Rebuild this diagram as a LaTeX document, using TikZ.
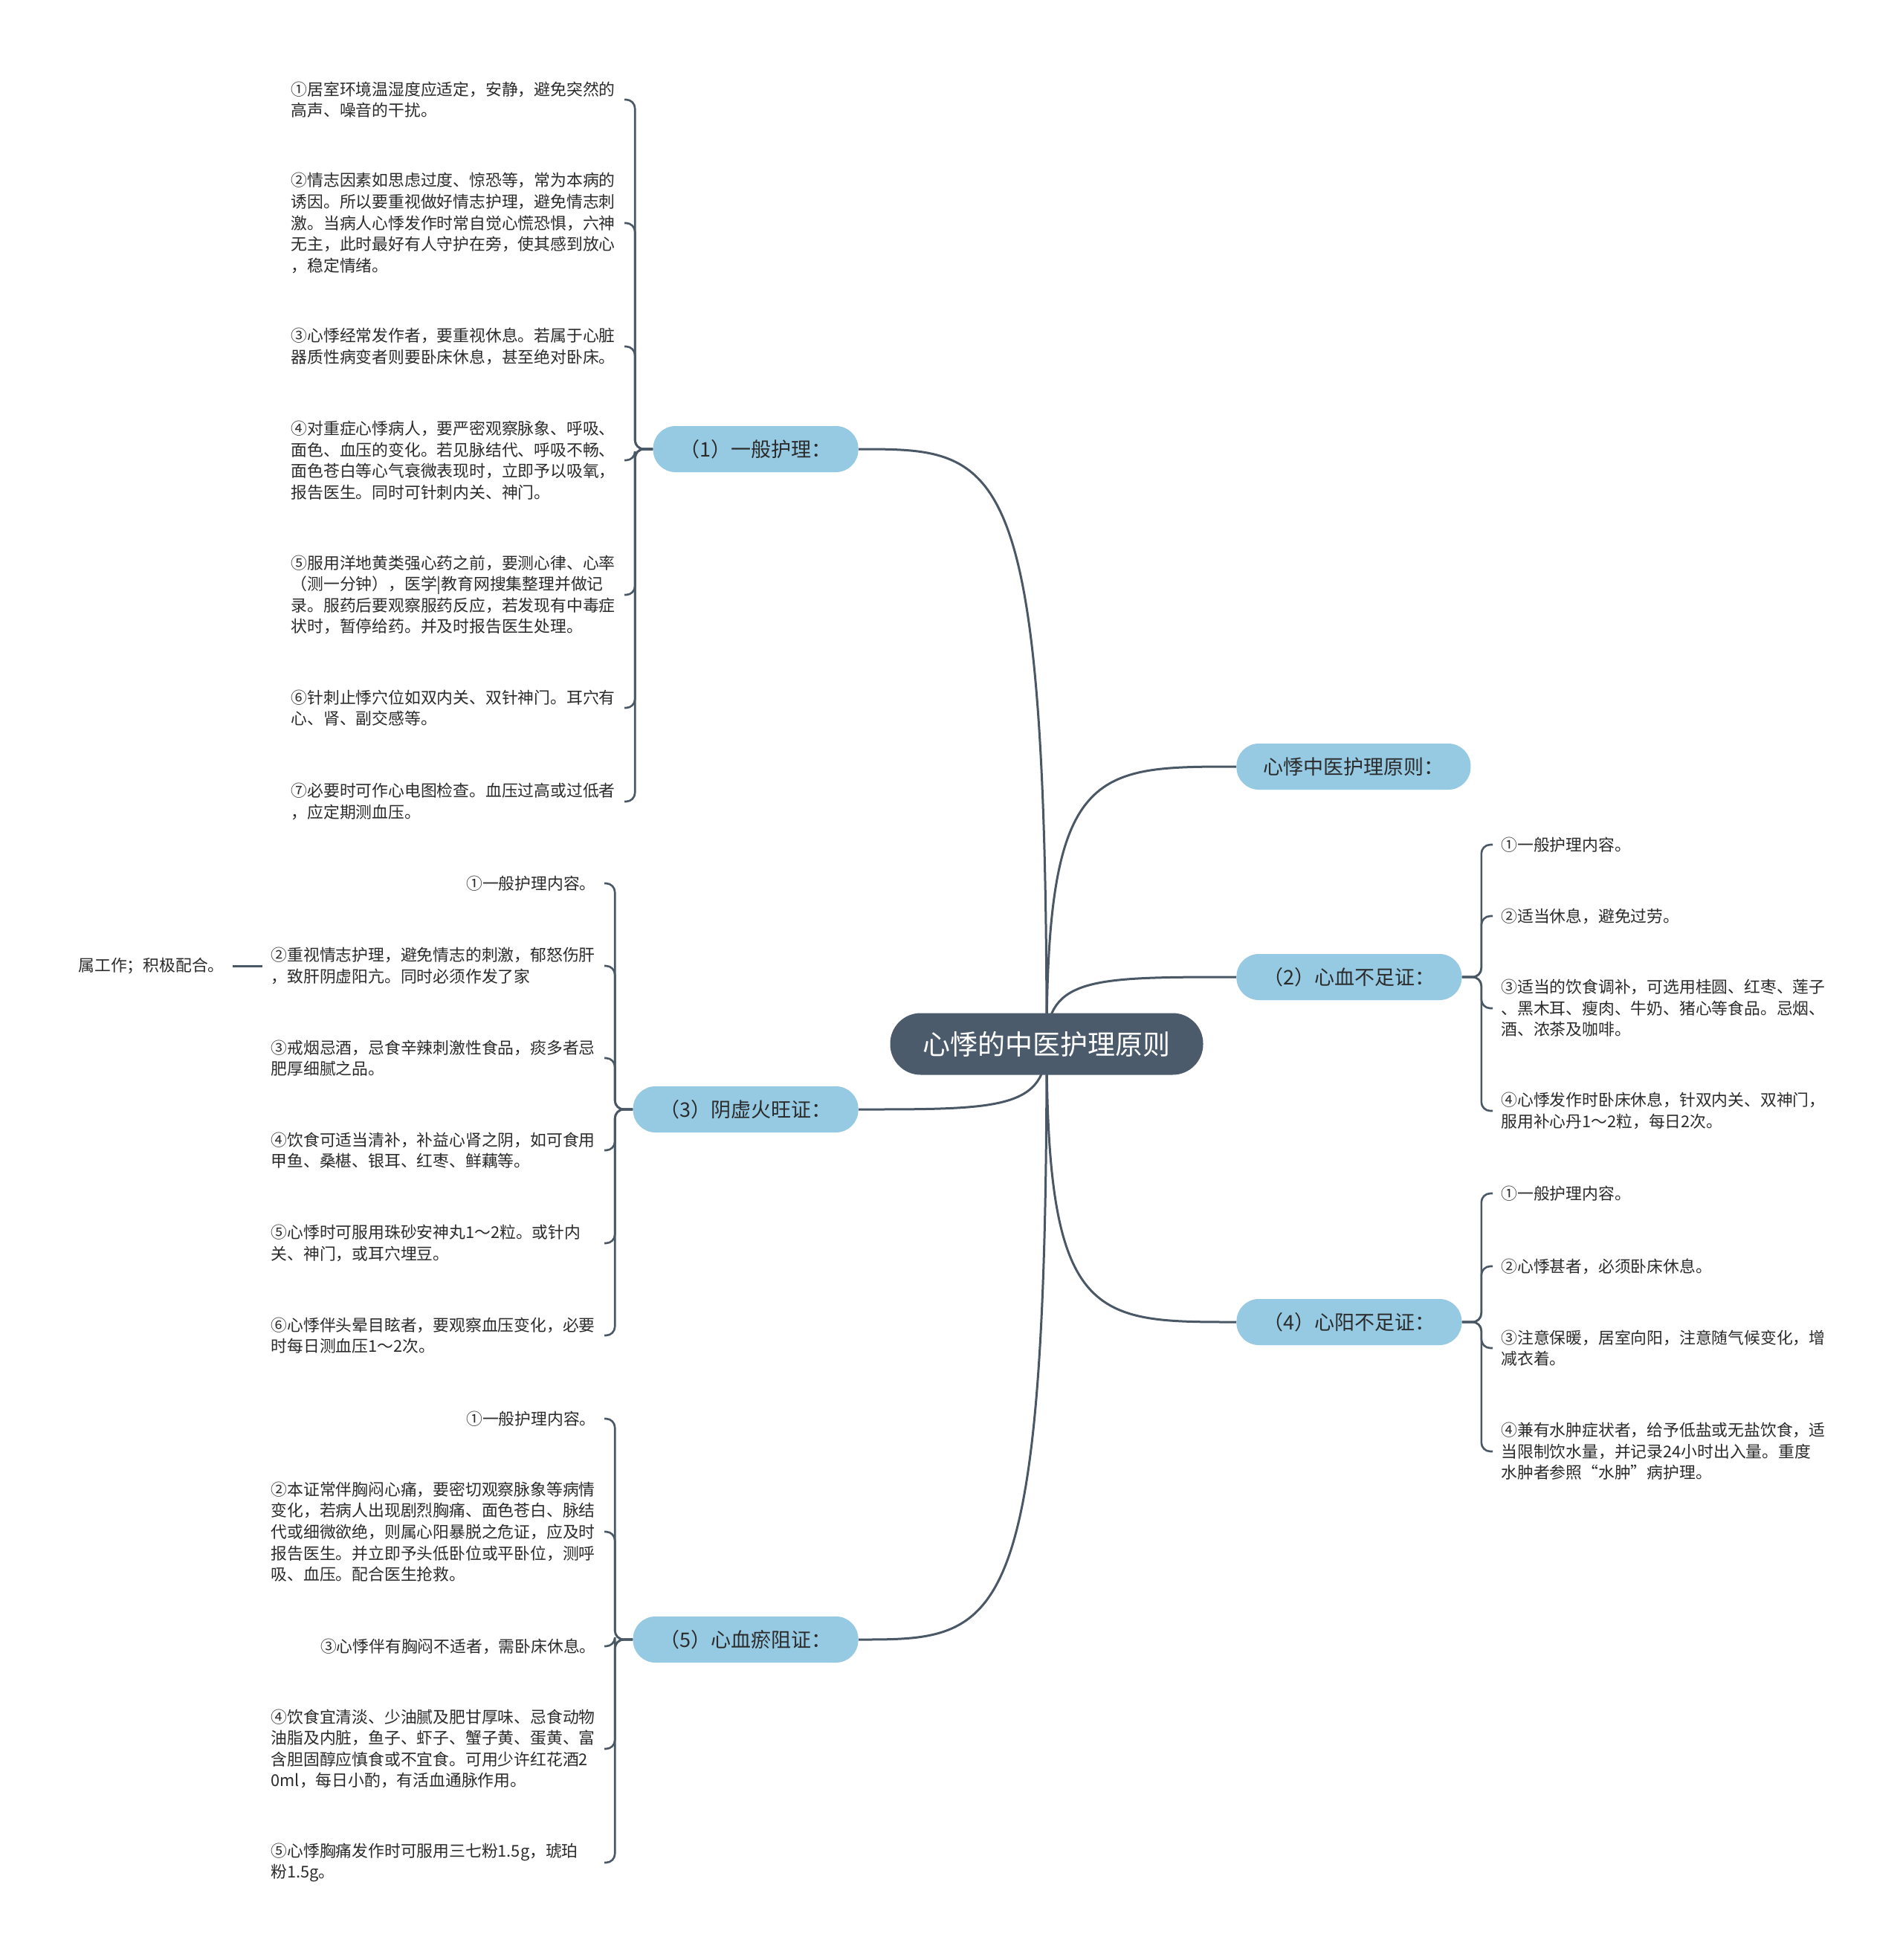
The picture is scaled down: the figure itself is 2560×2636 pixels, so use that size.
\documentclass[tikz,border=0pt]{standalone}
\usepackage{fontspec}
\setmainfont{Noto Sans CJK SC}
\usetikzlibrary{calc,backgrounds}
\definecolor{rootfill}{HTML}{4C5B6B}
\definecolor{linkcol}{HTML}{4A5866}
\definecolor{branchfill}{HTML}{96CAE3}
\definecolor{inkgray}{HTML}{2B2B2B}
\begin{document}
\begin{tikzpicture}[
x=0.5pt, y=-0.5pt,
topicbox/.style={
fill=rootfill,
text=white,
rounded corners=20.5pt,
minimum height=41.5pt,
inner xsep=22pt,
font=\fontsize{18.5}{22}\selectfont
},
branchbox/.style={
fill=branchfill,
text=inkgray,
rounded corners=15pt,
minimum height=31pt,
inner xsep=18pt,
font=\fontsize{13.5}{16}\selectfont
},
leafbox/.style={
text=inkgray,
align=left,
inner xsep=5.5pt,
inner ysep=2pt,
font=\fontsize{10.9}{14.3}\selectfont
},
wide/.style={text width=218.5pt},
link/.style={draw=linkcol, line width=1.5pt},
twig/.style={draw=linkcol, line width=1.3pt, rounded corners=6pt},
swoop/.style={to path={.. controls (\tikztostart |- \tikztotarget)
and ($(\tikztotarget)!0.75!(\tikztostart |- \tikztotarget)$) .. (\tikztotarget)}}
]
\useasboundingbox (0,0) rectangle (2560,2636);
% centre and main branches
\node[topicbox] (root) at (1408,1404) {心悸的中医护理原则};
\node[branchbox,anchor=east] (b1) at (1155,604) {（1）一般护理：};
\node[branchbox,anchor=west] (b0) at (1663,1031) {心悸中医护理原则：};
\node[branchbox,anchor=west] (b2) at (1663,1314) {（2）心血不足证：};
\node[branchbox,anchor=east] (b3) at (1155,1492) {（3）阴虚火旺证：};
\node[branchbox,anchor=west] (b4) at (1663,1778) {（4）心阳不足证：};
\node[branchbox,anchor=east] (b5) at (1155,2205) {（5）心血瘀阻证：};
% (1) general care
\node[leafbox,wide,anchor=east] (l11) at (840,134)
{①居室环境温湿度应适定，安静，避免突然的\\
高声、噪音的干扰。};
\node[leafbox,wide,anchor=east] (l12) at (840,300)
{②情志因素如思虑过度、惊恐等，常为本病的\\
诱因。所以要重视做好情志护理，避免情志刺\\
激。当病人心悸发作时常自觉心慌恐惧，六神\\
无主，此时最好有人守护在旁，使其感到放心\\
，稳定情绪。};
\node[leafbox,wide,anchor=east] (l13) at (840,466)
{③心悸经常发作者，要重视休息。若属于心脏\\
器质性病变者则要卧床休息，甚至绝对卧床。};
\node[leafbox,wide,anchor=east] (l14) at (840,619)
{④对重症心悸病人，要严密观察脉象、呼吸、\\
面色、血压的变化。若见脉结代、呼吸不畅、\\
面色苍白等心气衰微表现时，立即予以吸氧，\\
报告医生。同时可针刺内关、神门。};
\node[leafbox,wide,anchor=east] (l15) at (840,800)
{⑤服用洋地黄类强心药之前，要测心律、心率\\
（测一分钟），医学|教育网搜集整理并做记\\
录。服药后要观察服药反应，若发现有中毒症\\
状时，暂停给药。并及时报告医生处理。};
\node[leafbox,wide,anchor=east] (l16) at (840,952)
{⑥针刺止悸穴位如双内关、双针神门。耳穴有\\
心、肾、副交感等。};
\node[leafbox,wide,anchor=east] (l17) at (840,1078)
{⑦必要时可作心电图检查。血压过高或过低者\\
，应定期测血压。};
% (2)
\node[leafbox,anchor=west] (l21) at (2008,1136) {①一般护理内容。};
\node[leafbox,anchor=west] (l22) at (2008,1232) {②适当休息，避免过劳。};
\node[leafbox,wide,anchor=west] (l23) at (2008,1356)
{③适当的饮食调补，可选用桂圆、红枣、莲子\\
、黑木耳、瘦肉、牛奶、猪心等食品。忌烟、\\
酒、浓茶及咖啡。};
\node[leafbox,wide,anchor=west] (l24) at (2008,1494)
{④心悸发作时卧床休息，针双内关、双神门，\\
服用补心丹1～2粒，每日2次。};
% (3)
\node[leafbox,anchor=east] (l31) at (813,1188) {①一般护理内容。};
\node[leafbox,wide,anchor=east] (l32) at (813,1299)
{②重视情志护理，避免情志的刺激，郁怒伤肝\\
，致肝阴虚阳亢。同时必须作发了家};
\node[leafbox,anchor=east] (l32a) at (313,1299) {属工作；积极配合。};
\node[leafbox,wide,anchor=east] (l33) at (813,1423)
{③戒烟忌酒，忌食辛辣刺激性食品，痰多者忌\\
肥厚细腻之品。};
\node[leafbox,wide,anchor=east] (l34) at (813,1547)
{④饮食可适当清补，补益心肾之阴，如可食用\\
甲鱼、桑椹、银耳、红枣、鲜藕等。};
\node[leafbox,wide,anchor=east] (l35) at (813,1672)
{⑤心悸时可服用珠砂安神丸1～2粒。或针内\\
关、神门，或耳穴埋豆。};
\node[leafbox,wide,anchor=east] (l36) at (813,1796)
{⑥心悸伴头晕目眩者，要观察血压变化，必要\\
时每日测血压1～2次。};
% (4)
\node[leafbox,anchor=west] (l41) at (2008,1605) {①一般护理内容。};
\node[leafbox,anchor=west] (l42) at (2008,1703) {②心悸甚者，必须卧床休息。};
\node[leafbox,wide,anchor=west] (l43) at (2008,1813)
{③注意保暖，居室向阳，注意随气候变化，增\\
减衣着。};
\node[leafbox,wide,anchor=west] (l44) at (2008,1952)
{④兼有水肿症状者，给予低盐或无盐饮食，适\\
当限制饮水量，并记录24小时出入量。重度\\
水肿者参照“水肿”病护理。};
% (5)
\node[leafbox,anchor=east] (l51) at (813,1908) {①一般护理内容。};
\node[leafbox,wide,anchor=east] (l52) at (813,2060)
{②本证常伴胸闷心痛，要密切观察脉象等病情\\
变化，若病人出现剧烈胸痛、面色苍白、脉结\\
代或细微欲绝，则属心阳暴脱之危证，应及时\\
报告医生。并立即予头低卧位或平卧位，测呼\\
吸、血压。配合医生抢救。};
\node[leafbox,anchor=east] (l53) at (813,2214) {③心悸伴有胸闷不适者，需卧床休息。};
\node[leafbox,wide,anchor=east] (l54) at (813,2352)
{④饮食宜清淡、少油腻及肥甘厚味、忌食动物\\
油脂及内脏，鱼子、虾子、蟹子黄、蛋黄、富\\
含胆固醇应慎食或不宜食。可用少许红花酒2\\
0ml，每日小酌，有活血通脉作用。};
\node[leafbox,wide,anchor=east] (l55) at (813,2505)
{⑤心悸胸痛发作时可服用三七粉1.5g，琥珀\\
粉1.5g。};
% connectors
\begin{scope}[on background layer]
\fill[white] (0,0) rectangle (2560,2636);
\draw[link] (root.center) to[swoop] (b1.east);
\draw[link] (root.center) to[swoop] (b0.west);
\draw[link] (root.center) to[swoop] (b2.west);
\draw[link] (root.center) to[swoop] (b3.east);
\draw[link] (root.center) to[swoop] (b4.west);
\draw[link] (root.center) to[swoop] (b5.east);
\end{scope}
\draw[twig] (b1.west) -- ++(-24,0) |- (l11.east);
\draw[twig] (b1.west) -- ++(-24,0) |- (l12.east);
\draw[twig] (b1.west) -- ++(-24,0) |- (l13.east);
\draw[twig] (b1.west) -- ++(-24,0) |- (l14.east);
\draw[twig] (b1.west) -- ++(-24,0) |- (l15.east);
\draw[twig] (b1.west) -- ++(-24,0) |- (l16.east);
\draw[twig] (b1.west) -- ++(-24,0) |- (l17.east);
\draw[twig] (b2.east) -- ++(26,0) |- (l21.west);
\draw[twig] (b2.east) -- ++(26,0) |- (l22.west);
\draw[twig] (b2.east) -- ++(26,0) |- (l23.west);
\draw[twig] (b2.east) -- ++(26,0) |- (l24.west);
\draw[twig] (b3.west) -- ++(-24,0) |- (l31.east);
\draw[twig] (b3.west) -- ++(-24,0) |- (l32.east);
\draw[twig] (b3.west) -- ++(-24,0) |- (l33.east);
\draw[twig] (b3.west) -- ++(-24,0) |- (l34.east);
\draw[twig] (b3.west) -- ++(-24,0) |- (l35.east);
\draw[twig] (b3.west) -- ++(-24,0) |- (l36.east);
\draw[link] (l32.west) -- (l32a.east);
\draw[twig] (b4.east) -- ++(26,0) |- (l41.west);
\draw[twig] (b4.east) -- ++(26,0) |- (l42.west);
\draw[twig] (b4.east) -- ++(26,0) |- (l43.west);
\draw[twig] (b4.east) -- ++(26,0) |- (l44.west);
\draw[twig] (b5.west) -- ++(-24,0) |- (l51.east);
\draw[twig] (b5.west) -- ++(-24,0) |- (l52.east);
\draw[twig] (b5.west) -- ++(-24,0) |- (l53.east);
\draw[twig] (b5.west) -- ++(-24,0) |- (l54.east);
\draw[twig] (b5.west) -- ++(-24,0) |- (l55.east);
\end{tikzpicture}
\end{document}
